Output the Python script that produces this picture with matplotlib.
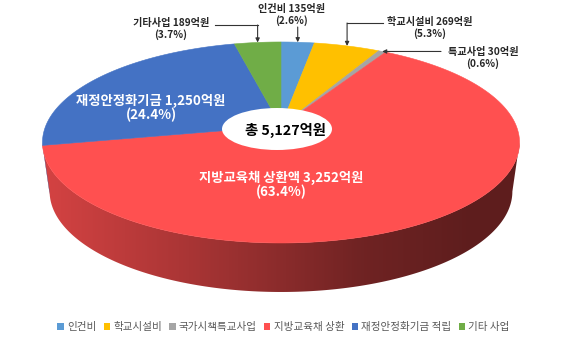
import numpy as np
import matplotlib
matplotlib.use("Agg")
import matplotlib.pyplot as plt
from matplotlib.patches import Polygon, Ellipse, Patch

plt.rcParams["font.family"] = ["Noto Sans CJK KR", "DejaVu Sans"]

# 2024 budget breakdown (억원)
names = ["인건비", "학교시설비", "국가시책특교사업", "지방교육채 상환", "재정안정화기금 적립", "기타 사업"]
short_names = ["인건비", "학교시설비", "특교사업", "지방교육채 상환액", "재정안정화기금", "기타사업"]
amounts = [135, 269, 30, 3252, 1250, 189]
pcts = [2.6, 5.3, 0.6, 63.4, 24.4, 3.7]
colors = ["#5B9BD5", "#FFC000", "#A5A5A5", "#FF5050", "#4472C4", "#70AD47"]
total_text = "총 5,127억원"

# 3D pie geometry in pixel units
CX, CY = 281, 126
A, B, T = 235.3, 97.8, 0.164
DEPTH = 49
SHRINK = 0.97


def proj(theta, drop=0.0, shrink=1.0):
    th = np.radians(theta)
    u, v = np.sin(th), -np.cos(th)
    den = 1 - T * v
    return CX + A * shrink * u / den, CY + B * v / den + drop


def side_shade(x):
    return np.interp(x, [45, 200, 360, 470], [0.83, 0.65, 0.44, 0.37])


fig = plt.figure(figsize=(5.67, 3.40), dpi=100)
ax = fig.add_axes([0, 0, 1, 1])
ax.set_xlim(0, 567)
ax.set_ylim(340, 0)
ax.axis("off")

edges = np.concatenate([[0], np.cumsum(amounts)]) / sum(amounts) * 360
vis_lo = np.degrees(np.arccos(-T))
vis_hi = 360 - vis_lo

# side walls (front half only)
for i, col in enumerate(colors):
    a0, a1 = max(edges[i], vis_lo), min(edges[i + 1], vis_hi)
    if a1 <= a0:
        continue
    ths = np.linspace(a0, a1, 200)
    tx, ty = proj(ths)
    bx, by = proj(ths[::-1], DEPTH, SHRINK)
    poly = Polygon(np.column_stack([np.r_[tx, bx], np.r_[ty, by]]),
                   closed=True, facecolor="none", edgecolor="none")
    ax.add_patch(poly)
    xs = np.linspace(30, 540, 400)
    rgb = np.array(matplotlib.colors.to_rgb(col))
    img = (side_shade(xs)[:, None] * rgb[None, :])[None, :, :]
    im = ax.imshow(img, extent=(30, 540, 310, 120), aspect="auto",
                   interpolation="bilinear", zorder=1)
    im.set_clip_path(poly)

# top faces
for i, col in enumerate(colors):
    ths = np.linspace(edges[i], edges[i + 1], max(int(edges[i + 1] - edges[i]) * 2, 4))
    tx, ty = proj(ths)
    pts = np.column_stack([np.r_[CX, tx], np.r_[CY, ty]])
    ax.add_patch(Polygon(pts, closed=True, facecolor=col, edgecolor=col,
                         lw=0.4, zorder=2))

# total in the middle
ax.add_patch(Ellipse((277, 129), 110, 42, facecolor="white", edgecolor="none", zorder=3))
ax.text(285, 130, total_text, ha="center", va="center", fontsize=10.3,
        fontweight="bold", color="black", zorder=4)

# labels inside the two big slices
for i, (lx, ly) in {3: (281, 185), 4: (151, 108)}.items():
    ax.text(lx, ly, f"{short_names[i]} {amounts[i]:,}억원\n({pcts[i]}%)",
            ha="center", va="center", fontsize=9.6, fontweight="bold",
            color="white", linespacing=1.05, zorder=4)

# callouts for the small slices: text position and elbow point
callouts = {
    5: (171, 29, (215, 25)),
    0: (292, 15, None),
    1: (430, 28, (383, 23)),
    2: (483, 58, None),
}
line_kw = dict(color="#333333", lw=0.8, zorder=5)
for i, (lx, ly, elbow) in callouts.items():
    mid = (edges[i] + edges[i + 1]) / 2
    tipx, tipy = proj(mid)
    ax.text(lx, ly, f"{short_names[i]} {amounts[i]}억원\n({pcts[i]}%)",
            ha="center", va="center", fontsize=7.3, fontweight="bold",
            color="#262626", linespacing=1.1, zorder=5)
    arrow = dict(arrowstyle="-|>", color="#333333", lw=0.8,
                 mutation_scale=6, shrinkA=0, shrinkB=0)
    if i == 2:
        ax.annotate("", xy=(tipx, tipy), xytext=(441, tipy), arrowprops=arrow, zorder=5)
    elif elbow is None:
        ax.annotate("", xy=(tipx, tipy), xytext=(tipx, 27), arrowprops=arrow, zorder=5)
    else:
        ax.plot([elbow[0], tipx], [elbow[1], elbow[1]], **line_kw)
        ax.annotate("", xy=(tipx, tipy), xytext=(tipx, elbow[1]), arrowprops=arrow, zorder=5)

handles = [Patch(facecolor=c, edgecolor="none") for c in colors]
ax.legend(handles, names, loc="center", bbox_to_anchor=(0.5, 1 - 327 / 340),
          ncol=6, frameon=False, fontsize=7.6, labelcolor="#595959",
          handlelength=0.6, handleheight=0.6, handletextpad=0.3,
          columnspacing=0.7, borderpad=0)

fig.savefig("out.png", dpi=100)
